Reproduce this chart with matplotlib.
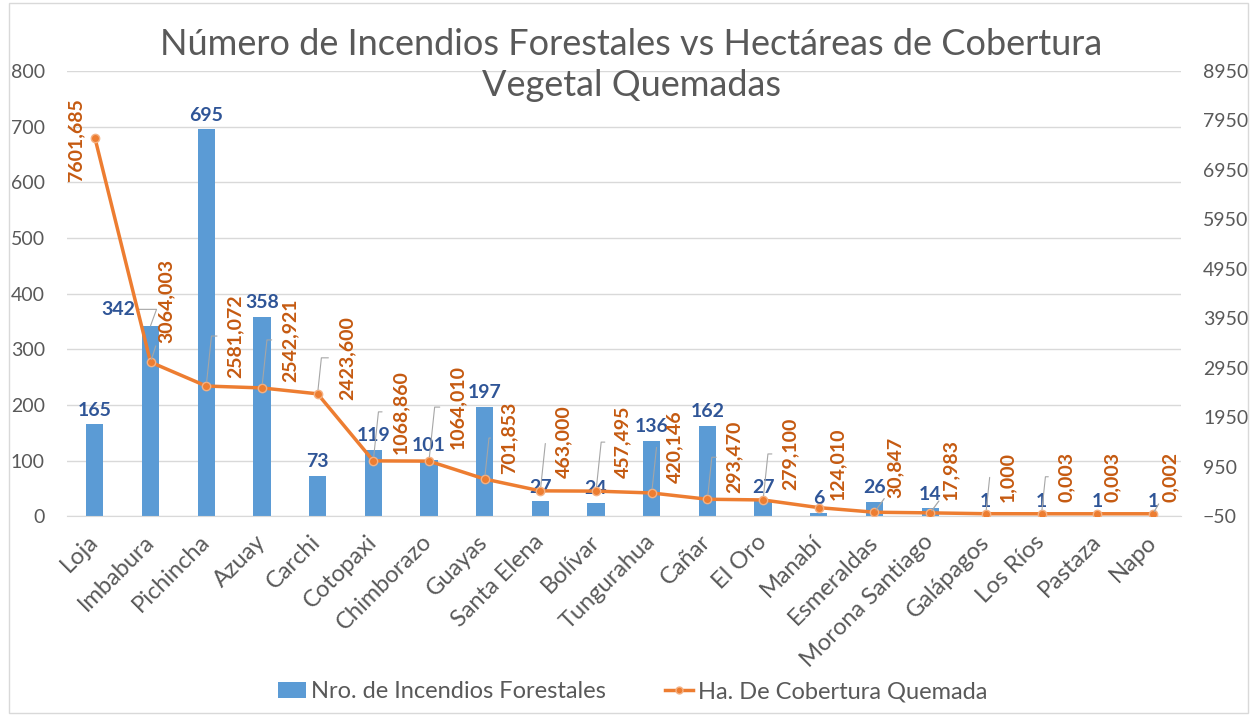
import numpy as np
import matplotlib
matplotlib.use('Agg')
import matplotlib.pyplot as plt
from matplotlib.patches import Rectangle
from matplotlib.lines import Line2D
from matplotlib.patches import Patch

plt.rcParams['font.family'] = ['Lato', 'DejaVu Sans']

# datos
provincias = ['Loja', 'Imbabura', 'Pichincha', 'Azuay', 'Carchi', 'Cotopaxi', 'Chimborazo',
              'Guayas', 'Santa Elena', 'Bolívar', 'Tungurahua', 'Cañar', 'El Oro', 'Manabí',
              'Esmeraldas', 'Morona Santiago', 'Galápagos', 'Los Ríos', 'Pastaza', 'Napo']
incendios = [165, 342, 695, 358, 73, 119, 101, 197, 27, 24, 136, 162, 27, 6, 26, 14, 1, 1, 1, 1]
hectareas = [7601.685, 3064.003, 2581.072, 2542.921, 2423.600, 1068.860, 1064.010, 701.853,
             463.000, 457.495, 420.146, 293.470, 279.100, 124.010, 30.847, 17.983, 1.000,
             0.003, 0.003, 0.002]

# posicion de etiquetas de la linea (pixeles respecto al punto) y tipo de linea guia
lbl_off = [(-19, -3), (16, 61), (29, 50), (28, 48), (29, 36), (27, 49), (29, 54), (24, 41),
           (23, 49), (27, 49), (23, 46), (27, 42), (27, 46), (19, 44), (21, 45), (20, 43),
           (22, 37), (25, 37), (15, 37), (17, 37)]
guia = [None, 'diag', 'angle', 'angle', 'angle', 'angle', 'angle', 'angle', 'angle', 'angle',
        'angle', 'angle', 'angle', None, 'diag', 'diag', 'angle', 'angle', None, 'diag']

azul = '#5B9BD5'
naranja = '#ED7D31'
txt_azul = '#2F5597'
txt_naranja = '#C55A11'
gris = '#595959'
gris_guia = '#A6A6A6'

fig = plt.figure(figsize=(12.5, 7.16), dpi=100)
fig.patches.append(Rectangle((0.007, 0.004), 0.991, 0.992, transform=fig.transFigure,
                             fill=False, edgecolor='#D9D9D9', linewidth=1))
ax = fig.add_axes([0.0536, 0.279, 0.891, 0.622])
ax2 = ax.twinx()

x = np.arange(len(provincias))
ax.bar(x, incendios, 0.31, color=azul, zorder=2)
ax.set_ylim(0, 800)
ax.set_yticks(np.arange(0, 801, 100))
ax.set_xlim(-0.5, len(provincias) - 0.5)
ax.grid(axis='y', color='#D9D9D9', linewidth=1, zorder=0)
ax.set_axisbelow(True)

ax2.plot(x, hectareas, color=naranja, linewidth=2.5, marker='o', markersize=6,
         markerfacecolor=naranja, markeredgecolor='#F4B183', markeredgewidth=1, zorder=3)
ax2.set_ylim(-50, 8950)
ax2.set_yticks(np.arange(-50, 8951, 1000))

for a in (ax, ax2):
    for s in a.spines.values():
        s.set_visible(False)
    a.tick_params(axis='y', length=0, labelsize=14, labelcolor=gris, pad=16)
ax.spines['bottom'].set_visible(True)
ax.spines['bottom'].set_color('#D9D9D9')

ax.set_xticks(x)
ax.set_xticklabels(provincias, rotation=45, ha='right', va='center', rotation_mode='anchor')
ax.tick_params(axis='x', length=0, labelsize=17, labelcolor=gris, pad=16)

# etiquetas de barras
for i, v in enumerate(incendios):
    if i == 1:
        ax.annotate(str(v), xy=(i, v), xytext=(-32, 8), textcoords='offset pixels',
                    ha='center', va='bottom', fontsize=14, fontweight='bold', color=txt_azul,
                    arrowprops=dict(arrowstyle='-', color=gris_guia, lw=0.8,
                                    shrinkA=0, shrinkB=0, relpos=(1, 0.5),
                                    connectionstyle='angle,angleA=0,angleB=70,rad=0'))
    else:
        ax.annotate(str(v), xy=(i, v), xytext=(0, 4), textcoords='offset points',
                    ha='center', va='bottom', fontsize=14, fontweight='bold', color=txt_azul,
                    zorder=5)

# etiquetas de la linea
for i, v in enumerate(hectareas):
    txt = ('%.3f' % v).replace('.', ',')
    dx, dy = lbl_off[i]
    props = None
    if guia[i] == 'angle':
        props = dict(arrowstyle='-', color=gris_guia, lw=0.8, shrinkA=5, shrinkB=3,
                     relpos=(0, 0.5), connectionstyle='angle,angleA=180,angleB=84,rad=0')
    elif guia[i] == 'diag':
        props = dict(arrowstyle='-', color=gris_guia, lw=0.9, shrinkA=0, shrinkB=2,
                     relpos=(0, 0.05))
    ax2.annotate(txt, xy=(i, v), xytext=(dx, dy), textcoords='offset pixels',
                 ha='center', va='center', rotation=90, fontsize=14, fontweight='bold',
                 color=txt_naranja, arrowprops=props, zorder=6)

fig.text(0.505, 0.909, 'Número de Incendios Forestales vs Hectáreas de Cobertura\nVegetal Quemadas',
         ha='center', va='center', fontsize=26, color=gris, linespacing=1.3)

handles = [Patch(facecolor=azul), Line2D([0], [0], color=naranja, lw=2.5, marker='o',
                                         markersize=5, markeredgecolor='#F4B183')]
fig.legend(handles, ['Nro. de Incendios Forestales', 'Ha. De Cobertura Quemada'],
           loc='center', bbox_to_anchor=(0.506, 0.034), ncol=2, frameon=False,
           fontsize=17, labelcolor=gris, handlelength=1.2, handletextpad=0.2, columnspacing=2.5)

fig.savefig('out.png', dpi=100)
